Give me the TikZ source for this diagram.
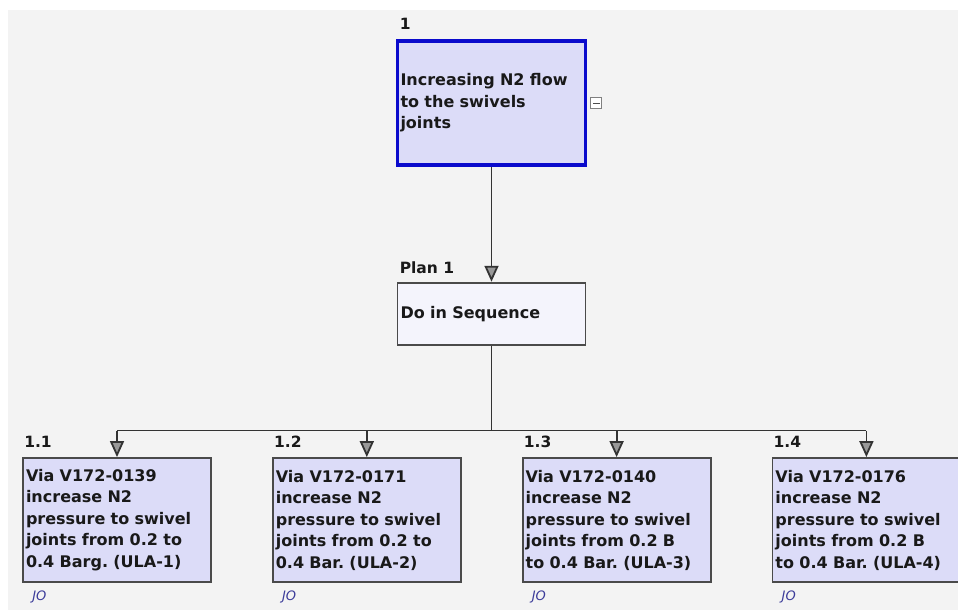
\documentclass[tikz,border=0pt]{standalone}
\usepackage{fontspec}
\setmainfont{DejaVu Sans}
\usetikzlibrary{positioning,arrows.meta}
\definecolor{canvas}{HTML}{F3F3F3}
\definecolor{lilac}{HTML}{DCDCF8}
\definecolor{pale}{HTML}{F4F4FC}
\definecolor{goalblue}{HTML}{0A0ACC}
\definecolor{edge}{HTML}{4A4A4A}
\definecolor{initials}{HTML}{3C3C9A}
\frenchspacing

\tikzset{
  task/.style={draw=edge, line width=1.8pt, fill=lilac, text width=182pt,
    inner xsep=3pt, inner ysep=0pt, minimum height=124pt, align=left,
    font=\bfseries\fontsize{16}{21.5}\selectfont, text=black!90},
  goal/.style={task, draw=goalblue, line width=3.5pt},
  plan/.style={task, fill=pale, minimum height=62pt},
  tag/.style={inner sep=0pt, anchor=south west,
    font=\bfseries\fontsize{15.5}{18}\selectfont, text=black!90},
  who/.style={inner sep=0pt, anchor=north west,
    font=\itshape\fontsize{13}{15}\selectfont, text=initials},
  fold/.style={draw=gray, fill=white, line width=0.8pt, minimum size=11pt, inner sep=0pt},
  link/.style={line width=1.8pt, draw=black!80},
  flow/.style={link, -{Triangle[length=16pt, width=14pt, fill=gray!65!black!60]}},
}

\begin{document}
\begin{tikzpicture}[x=1pt, y=-1pt]
  \useasboundingbox (0,0) rectangle (958,610);
  \fill[canvas] (8,10) rectangle (958,610);

  \node[goal] (1) at (491.5,103) {Increasing N2 flow\\to the swivels\\joints};
  \node[plan, below=115pt of 1] (p) {Do in Sequence};
  \coordinate[below=85pt of p] (bus);

  \node[task] (11) at (117,520) {Via V172-0139\\increase N2\\pressure to swivel\\joints from 0.2 to\\0.4 Barg. (ULA-1)};
  \node[task, right=60pt of 11] (12) {Via V172-0171\\increase N2\\pressure to swivel\\joints from 0.2 to\\0.4 Bar. (ULA-2)};
  \node[task, right=60pt of 12] (13) {Via V172-0140\\increase N2\\pressure to swivel\\joints from 0.2 B\\to 0.4 Bar. (ULA-3)};
  \node[task, right=60pt of 13] (14) {Via V172-0176\\increase N2\\pressure to swivel\\joints from 0.2 B\\to 0.4 Bar. (ULA-4)};

  % numbers and plan title
  \node[tag, above right=10pt and 4pt of 1.north west] (n1) {1};
  \node[tag, above right=8pt and 3pt of p.north west] (np) {Plan 1};
  \foreach \t/\s in {11/1.1,12/1.2,13/1.3,14/1.4} {
    \node[tag, above right=9pt and 2pt of \t.north west] (n\t) {\s};
    \node[who, below right=8pt and 10pt of \t.south west] (w\t) {JO};
  }

  % collapse box
  \node[fold, right=3pt of 1] (m1) {};
  \draw[line width=0.8pt, gray!60!black] ([xshift=2.5pt]m1.west) -- ([xshift=-2.5pt]m1.east);

  \draw[flow] (1) -- (p);
  \draw[link] (p) -- (bus);
  \draw[link] (11.north |- bus) -- (14.north |- bus);
  \foreach \t in {11,12,13,14}
    \draw[flow] (\t.north |- bus) -- (\t.north);
\end{tikzpicture}
\end{document}
